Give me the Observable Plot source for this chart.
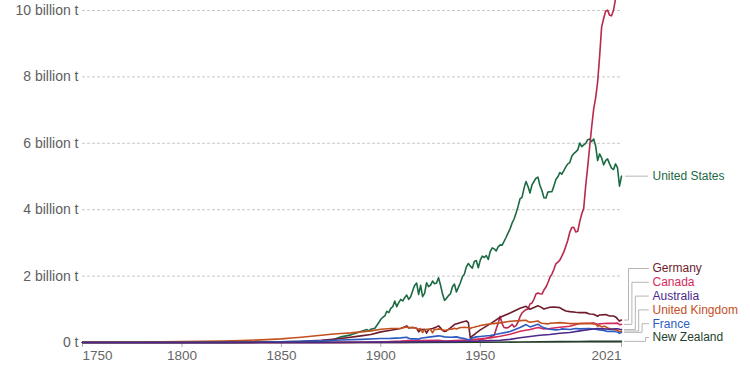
<!DOCTYPE html>
<html><head><meta charset="utf-8">
<script src="https://cdn.jsdelivr.net/npm/d3@7"></script>
<script src="https://cdn.jsdelivr.net/npm/@observablehq/plot@0.6"></script>
<style>html,body{margin:0;padding:0;background:#fff;} svg{display:block}</style>
</head><body><div id="chart"></div>
<script>
// Annual CO2 emissions, million tonnes
const usYears = [1750,1790,1800,1820,1830,1840,1850,1860,1865,1870,1875,1880,1885,1890,1893,1894,1895,1897,1899,
1900,1901,1902,1903,1904,1905,1906,1907,1908,1909,1910,1911,1912,1913,1914,1915,1916,1917,1918,1919,
1920,1921,1922,1923,1924,1925,1926,1927,1928,1929,1930,1931,1932,1933,1934,1935,1936,1937,1938,1939,
1940,1941,1942,1943,1944,1945,1946,1947,1948,1949,1950,1951,1952,1953,1954,1955,1956,1957,1958,1959,
1960,1961,1962,1963,1964,1965,1966,1967,1968,1969,1970,1971,1972,1973,1974,1975,1976,1977,1978,1979,
1980,1981,1982,1983,1984,1985,1986,1987,1988,1989,1990,1991,1992,1993,1994,1995,1996,1997,1998,1999,
2000,2001,2002,2003,2004,2005,2006,2007,2008,2009,2010,2011,2012,2013,2014,2015,2016,2017,2018,2019,2020,2021];
const usValues = [0,0.1,0.25,1.2,2.3,6,9,17,25,40,60,170,230,330,390,350,400,430,600,
700,760,800,940,900,1030,1080,1250,1080,1200,1300,1250,1350,1430,1300,1380,1560,1720,1790,1450,
1720,1380,1480,1800,1680,1730,1850,1770,1790,1950,1730,1470,1270,1330,1410,1470,1680,1760,1520,1660,
1800,1980,2060,2280,2380,2300,2240,2440,2470,2250,2480,2600,2560,2620,2500,2740,2850,2820,2760,2880,
2940,2930,3050,3170,3300,3430,3600,3720,3900,4100,4330,4370,4650,4850,4700,4500,4750,4850,4950,4980,
4730,4580,4360,4350,4530,4540,4540,4710,4910,4990,5120,5070,5180,5290,5380,5420,5610,5690,5740,5800,
6010,5900,5950,6000,6110,6130,6050,6130,5920,5480,5680,5560,5350,5480,5530,5380,5250,5210,5380,5260,4710,5010];

const chinaYears = [1750,1900,1910,1920,1930,1937,1942,1945,1949,
1950,1951,1952,1953,1954,1955,1956,1957,1958,1959,1960,1961,1962,1963,1964,1965,1966,1967,1968,1969,
1970,1971,1972,1973,1974,1975,1976,1977,1978,1979,1980,1981,1982,1983,1984,1985,1986,1987,1988,1989,
1990,1991,1992,1993,1994,1995,1996,1997,1998,1999,2000,2001,2002,2003,2004,2005,2006,2007,2008,2009,
2010,2011,2012,2013,2014,2015,2016,2017,2018,2019,2020,2021];
const chinaValues = [0,0.5,3,10,15,30,40,25,35,
79,91,111,120,140,171,188,219,410,580,785,560,450,440,445,490,550,470,510,620,
780,890,950,990,1010,1160,1190,1300,1460,1490,1470,1460,1580,1670,1800,1960,2060,2200,2370,2420,
2480,2600,2730,2900,3080,3320,3460,3470,3330,3350,3640,3870,4040,4720,5290,5900,6490,7030,7370,7840,
8620,9500,9750,9980,10010,9860,9840,10010,10350,10740,10960,11470];

const germanyYears = [1750,1800,1830,1850,1860,1870,1880,1890,1895,1900,1905,1910,1913,1914,1916,1918,1919,1920,1922,1923,1924,1926,1928,1929,
1930,1931,1932,1933,1935,1937,1939,1941,1943,1944,1945,1946,1947,1948,1950,1955,1960,1965,1970,1973,1975,1979,1980,1982,1985,1987,
1990,1991,1993,1995,1998,2000,2003,2005,2007,2009,2010,2013,2015,2017,2018,2019,2020,2021];
const germanyValues = [0,1,3,18,35,70,120,200,240,320,370,420,500,440,450,430,320,380,400,280,390,420,470,500,
440,370,330,350,440,540,580,620,650,600,130,200,240,290,380,560,760,890,1030,1090,1000,1110,1080,1010,1060,1070,
1050,1010,950,930,910,900,900,860,850,790,830,840,800,800,770,710,645,675];

const canadaYears = [1750,1850,1870,1880,1890,1900,1905,1910,1913,1920,1929,1932,1940,1945,1950,1955,1960,1965,1970,1975,1979,1982,1985,
1990,1995,2000,2003,2005,2007,2009,2010,2012,2014,2015,2017,2019,2020,2021];
const canadaValues = [0,1,2,4,8,15,25,40,55,55,65,45,70,80,110,140,190,250,340,390,450,410,420,
460,490,570,580,580,590,550,560,570,580,575,575,585,535,545];

const ukYears = [1750,1760,1770,1780,1790,1800,1810,1820,1830,1840,1850,1855,1860,1865,1870,1875,1880,1885,1890,1895,1900,1905,1910,1913,
1914,1915,1916,1917,1918,1919,1920,1921,1922,1923,1924,1925,1926,1927,1928,1929,1930,1931,1932,1933,1934,1935,1936,1937,1938,1939,
1940,1941,1942,1943,1944,1945,1946,1947,1948,1949,1950,1955,1960,1965,1970,1973,1974,1975,1979,1980,1981,1984,1985,1990,1995,
2000,2005,2008,2009,2010,2011,2012,2013,2014,2015,2016,2017,2018,2019,2020,2021];
const ukValues = [9,10,12,14,19,28,33,42,60,80,110,135,160,190,220,250,270,290,320,350,400,420,430,470,
440,450,450,440,420,400,420,300,380,400,400,390,290,400,390,410,400,380,370,370,390,400,410,430,410,430,
450,450,460,450,450,420,450,460,480,490,510,560,590,640,660,670,630,610,650,600,580,560,580,600,570,
570,570,550,490,510,470,490,480,440,420,400,390,380,365,325,347];

const franceYears = [1750,1800,1820,1830,1840,1850,1860,1870,1880,1890,1900,1905,1910,1913,1914,1915,1918,1919,1920,1925,1929,1930,1932,1935,1938,
1940,1942,1944,1945,1946,1948,1950,1955,1960,1965,1970,1973,1975,1979,1980,1982,1985,1988,1990,1991,1995,1998,
2000,2005,2008,2010,2012,2014,2015,2017,2018,2019,2020,2021];
const franceValues = [0,2,4,6,10,18,35,50,75,95,120,125,140,160,130,110,110,100,130,170,200,195,170,160,170,
140,120,80,100,140,170,180,210,270,330,450,540,470,550,510,440,400,380,390,410,390,420,
410,420,400,380,365,330,335,340,325,315,275,306];

const nzYears = [1750,1870,1900,1920,1950,1970,1990,2000,2005,2010,2015,2019,2021];
const nzValues = [0,0.2,2,4,7,15,25,32,36,33,35,37,34];

const australiaYears = [1750,1850,1870,1890,1900,1910,1920,1930,1940,1950,1955,1960,1965,1970,1975,1980,1985,1990,1995,
2000,2005,2009,2012,2015,2018,2019,2020,2021];
const australiaValues = [0,0.5,2,6,10,17,22,25,30,45,55,70,95,145,180,220,240,280,300,
350,390,420,410,400,415,415,400,390];

const names  = ["United States","China","Germany","Canada","United Kingdom","France","New Zealand","Australia"];
const colors = ["#1c6a43","#b8294d","#6e1c2c","#d52b5b","#c3501f","#2c5bc2","#243f2a","#4c2989"];
const yearLists  = [usYears, chinaYears, germanyYears, canadaYears, ukYears, franceYears, nzYears, australiaYears];
const valueLists = [usValues, chinaValues, germanyValues, canadaValues, ukValues, franceValues, nzValues, australiaValues];
const unlabeled = ["China"];

const xTicks = [1750, 1800, 1850, 1900, 1950, 2021];
const yTicks = [0, 2e9, 4e9, 6e9, 8e9, 1e10];

// ---------- build ----------
const W = 750, H = 375, mL = 82, mR = 129, mT = 10, mB = 33;
const FONT = "'Liberation Sans', Arial, Helvetica, sans-serif";

const rows = names.flatMap((n, k) => yearLists[k].map((yr, i) => ({name: n, year: yr, value: valueLists[k][i] * 1e6})));

const xs = Plot.scale({x: {domain: [1750, 2021], range: [mL, W - mR]}});
const ys = Plot.scale({y: {domain: [0, 1e10], range: [H - mB, mT]}});

const labels = names.map((n, k) => ({name: n, last: valueLists[k][valueLists[k].length - 1] * 1e6}))
  .filter(d => !unlabeled.includes(d.name));
labels.forEach(d => d.vy = ys.apply(d.last));
labels.sort((a, b) => a.vy - b.vy);
const gap = 13.8, bottomLimit = H - mB - 5;
labels.forEach((d, i) => { d.ly = i ? Math.max(d.vy, labels[i - 1].ly + gap) : d.vy; });
for (let i = labels.length - 1; i >= 0; i--) {
  const lim = i === labels.length - 1 ? bottomLimit : labels[i + 1].ly - gap;
  if (labels[i].ly > lim) labels[i].ly = lim;
}
const xEnd = W - mR;
const connectors = [];
let e = 0;
labels.forEach(d => {
  let pts;
  if (Math.abs(d.ly - d.vy) < 2) {
    pts = [[xEnd + 4, d.ly], [xEnd + 26, d.ly]];
  } else {
    const ex = xEnd + 7 + e * 3.4; e++;
    pts = [[xEnd + 3, d.vy], [ex, d.vy], [ex, d.ly], [xEnd + 27, d.ly]];
  }
  pts.forEach(([px, py]) => connectors.push({name: d.name, x: xs.invert(px), y: ys.invert(py)}));
});
const labelX = xs.invert(xEnd + 31);

const axisOpts = {tickSize: 5, tickPadding: 3, fontSize: 13.5, tickFormat: d => String(d), label: null, stroke: "#aaa", fill: "#666"};

const chart = Plot.plot({
  width: W, height: H,
  marginLeft: mL, marginRight: mR, marginTop: mT, marginBottom: mB,
  style: {fontFamily: FONT, fontSize: "14px", color: "#666", background: "#fff"},
  x: {domain: [1750, 2021], label: null},
  y: {domain: [0, 1e10], label: null},
  color: {domain: names, range: colors},
  marks: [
    Plot.gridY(yTicks.filter(t => t > 0), {stroke: "#c8c8c8", strokeOpacity: 1, strokeDasharray: "3,2"}),
    Plot.ruleY([0], {stroke: "#aaa"}),
    Plot.axisY(yTicks, {tickSize: 0, tickPadding: 4, fontSize: 14, label: null, fill: "#5e5e5e",
      tickFormat: d => d === 0 ? "0 t" : `${d / 1e9} billion t`}),
    Plot.axisX(xTicks.slice(0, 1), {...axisOpts, textAnchor: "start"}),
    Plot.axisX(xTicks.slice(1, -1), axisOpts),
    Plot.axisX(xTicks.slice(-1), {...axisOpts, textAnchor: "end"}),
    Plot.line(rows, {x: "year", y: "value", z: "name", stroke: "name", strokeWidth: 1.6, strokeLinejoin: "round"}),
    Plot.line(connectors, {x: "x", y: "y", z: "name", stroke: "#b5b5b5", strokeWidth: 1}),
    Plot.text(labels, {x: () => labelX, y: d => ys.invert(d.ly), text: "name", fill: "name",
      textAnchor: "start", fontSize: 12, fontFamily: FONT})
  ]
});
document.getElementById("chart").appendChild(chart);
</script>
</body></html>
